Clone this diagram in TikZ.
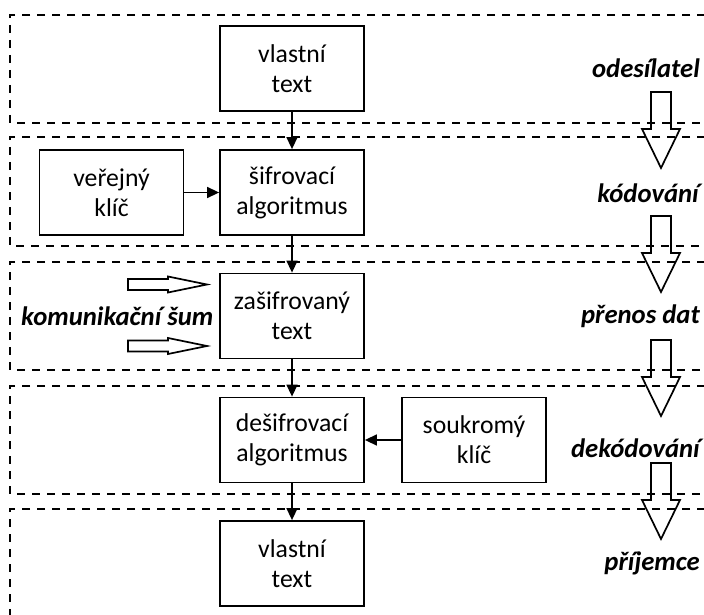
\documentclass[tikz,border=0pt]{standalone}
\usepackage{fontspec}
\setmainfont{Carlito}
\usetikzlibrary{arrows.meta}

\begin{document}
\begin{tikzpicture}[x=1pt,y=-1pt,
    box/.style={draw, line width=1.8pt, minimum width=144pt, minimum height=85pt,
        align=center, inner sep=0pt, font=\fontsize{25.7}{30}\selectfont},
    layer/.style={draw, line width=2pt, dash pattern=on 8pt off 7pt},
    flow/.style={-{Triangle[length=12pt,width=11pt]}, line width=1.5pt},
    stage/.style={anchor=base east, inner sep=0pt,
        font=\fontsize{26.7}{30}\selectfont\bfseries\itshape},
    hollow/.style={line width=1.7pt, line join=miter}]
    % Page frame
    \clip (0,0) rectangle (704,615);

    % Draw the dashed layers (open to the right)
    \foreach \t/\b in {15/123,137/246,262/370,386/494,509/640} {
        \draw[layer] (720,\t) -- (10,\t) -- (10,\b) -- (720,\b);
    }

    % Draw the boxes
    \node[box] (plain) at (292,68.5) {vlastní\\text};
    \node[box] (cipher) at (292,192.5) {šifrovací\\algoritmus};
    \node[box] (pubkey) at (111.5,192.5) {veřejný\\klíč};
    \node[box] (encrypted) at (292,316) {zašifrovaný\\text};
    \node[box] (decipher) at (292,440) {dešifrovací\\algoritmus};
    \node[box] (privkey) at (474,440) {soukromý\\klíč};
    \node[box] (plainout) at (292,563.5) {vlastní\\text};

    % Draw the connectors
    \draw[flow] (plain) -- (cipher);
    \draw[flow] (pubkey) -- (cipher);
    \draw[flow] (cipher) -- (encrypted);
    \draw[flow] (encrypted) -- (decipher);
    \draw[flow] (privkey) -- (decipher);
    \draw[flow] (decipher) -- (plainout);

    % Draw the stage labels
    \node[stage] (sender) at (700,78) {odesílatel};
    \node[stage] (coding) at (699,202) {kódování};
    \node[stage] (transfer) at (700,323) {přenos dat};
    \node[stage] (decoding) at (700,457) {dekódování};
    \node[stage] (receiver) at (700,570) {příjemce};

    % Draw the hollow arrows between stages
    \foreach \t in {92,216,340,463} {
        \draw[hollow] (651,\t) -- (671,\t) -- (671,\t+37) -- (680,\t+37)
            -- (661,\t+76) -- (642,\t+37) -- (651,\t+37) -- cycle;
    }

    % Draw the noise
    \node[stage, anchor=base west] (noise) at (21,325) {komunikační šum};
    \foreach \m in {284.5,346} {
        \draw[hollow] (128,\m-5.5) -- (168,\m-5.5) -- (168,\m-8) -- (207,\m)
            -- (168,\m+8) -- (168,\m+5.5) -- (128,\m+5.5) -- cycle;
    }

\end{tikzpicture}
\end{document}
